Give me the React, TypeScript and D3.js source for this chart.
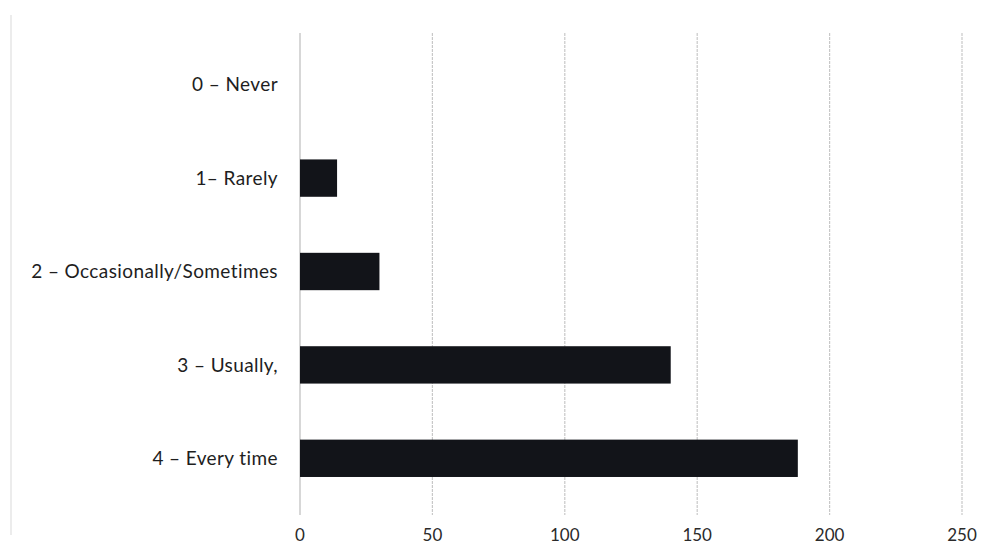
import React from "react";
import * as d3 from "d3";

const categories = [
  "0 – Never",
  "1– Rarely",
  "2 – Occasionally/Sometimes",
  "3 – Usually,",
  "4 – Every time",
];
const counts = [0, 14, 30, 140, 188];
const xTicks = [0, 50, 100, 150, 200, 250];

const W = 987;
const H = 558;
const margin = { left: 300, right: 25, top: 38, bottom: 53 };

export default function App() {
  const x = d3.scaleLinear().domain([0, 250]).range([margin.left, W - margin.right]);
  const y = d3
    .scaleBand<string>()
    .domain(categories)
    .range([margin.top, H - margin.bottom])
    .paddingInner(0.6)
    .paddingOuter(0.3);

  const gridTop = 33;
  const gridBottom = 515;
  const font = "Lato, 'Open Sans', sans-serif";

  return (
    <svg
      width={W}
      height={H}
      style={{ position: "absolute", left: 0, top: 0, background: "#fff" }}
    >
      <line x1={11} x2={11} y1={15} y2={535} stroke="#e6e6e6" strokeWidth={1.5} />
      {xTicks.map((t) => (
        <g key={t}>
          <line
            x1={x(t)}
            x2={x(t)}
            y1={gridTop}
            y2={gridBottom}
            stroke={t === 0 ? "#bdbdbd" : "#c8c8c8"}
            strokeWidth={1.2}
            strokeDasharray={t === 0 ? undefined : "3 1"}
          />
          <text
            x={x(t)}
            y={541}
            textAnchor="middle"
            fontFamily={font}
            fontSize={17}
            fill="#2a2a2a"
          >
            {t}
          </text>
        </g>
      ))}
      {categories.map((c, i) => {
        const yc = (y(c) as number) + y.bandwidth() / 2;
        return (
          <g key={c}>
            {counts[i] > 0 && (
              <rect
                x={x(0)}
                y={y(c)}
                width={x(counts[i]) - x(0)}
                height={y.bandwidth()}
                fill="#121419"
              />
            )}
            <text
              x={278}
              y={yc}
              dy="0.35em"
              textAnchor="end"
              fontFamily={font}
              fontSize={19}
              letterSpacing={0.4}
              fill="#1e1e1e"
            >
              {c}
            </text>
          </g>
        );
      })}
    </svg>
  );
}
